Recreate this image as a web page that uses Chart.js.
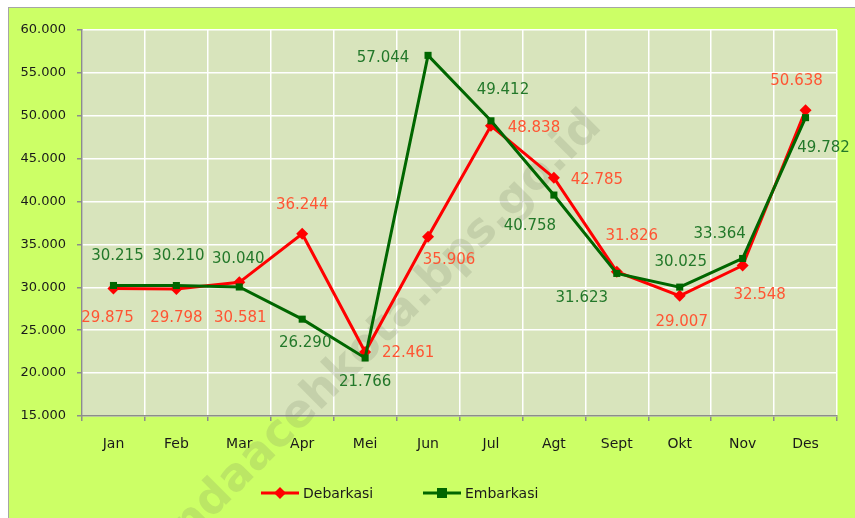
<!DOCTYPE html>
<html>
<head>
<meta charset="utf-8">
<script src="https://cdn.jsdelivr.net/npm/chart.js@4.4.1/dist/chart.umd.min.js"></script>
<style>
  body { margin: 0; background: #ffffff; }
  #frame {
    position: absolute; left: 8px; top: 7px;
    width: 846px; height: 510px;
    border-left: 1px solid #a6a6a6; border-top: 1px solid #a6a6a6;
    background: #ccff66;
  }
  #chart { display: block; }
</style>
</head>
<body>
<div id="frame"><canvas id="chart" width="846" height="510"></canvas></div>
<script>
const months = ["Jan", "Feb", "Mar", "Apr", "Mei", "Jun", "Jul", "Agt", "Sept", "Okt", "Nov", "Des"];
const debarkasi = [29875, 29798, 30581, 36244, 22461, 35906, 48838, 42785, 31826, 29007, 32548, 50638];
const embarkasi = [30215, 30210, 30040, 26290, 21766, 57044, 49412, 40758, 31623, 30025, 33364, 49782];
const yTicks = [15000, 20000, 25000, 30000, 35000, 40000, 45000, 50000, 55000, 60000];

// where each value label sits relative to its point (px)
const debLabelPos = [[-6, 30], [0, 29], [1, 36], [0, -29], [43, 1], [21, 23], [43, 2], [43, 2], [15, -36], [2, 26], [17, 30], [-9, -29]];
const embLabelPos = [[4, -29], [2, -29], [-1, -28], [3, 24], [0, 24], [-45, 3], [12, -31], [-24, 31], [-35, 25], [1, -25], [-23, -24], [18, 30]];

const RED = "#ff0000";
const GREEN = "#006600";
const RED_TXT = "#ff5533";
const GREEN_TXT = "#23782a";

function fmt(v) {
  return (v / 1000).toFixed(3);
}

// plot background + watermark
const backPlugin = {
  id: "back",
  beforeDraw(chart) {
    const { ctx, chartArea: a } = chart;
    ctx.save();
    ctx.fillStyle = "#d8e4bc";
    ctx.fillRect(a.left, a.top, a.right - a.left, a.bottom - a.top);
    ctx.restore();
  },
  beforeDatasetsDraw(chart) {
    const ctx = chart.ctx;
    ctx.save();
    ctx.translate(356, 341);
    ctx.rotate(-Math.PI / 4);
    ctx.font = "bold 40px 'DejaVu Sans'";
    const txt = "bandaacehkota.bps.go.id";
    const w = ctx.measureText(txt).width;
    ctx.scale(650 / w, 650 / w);
    ctx.fillStyle = "rgba(120,130,100,0.2)";
    ctx.textAlign = "center";
    ctx.textBaseline = "middle";
    ctx.fillText(txt, 0, 0);
    ctx.restore();
  }
};

// value labels next to the points
const labelPlugin = {
  id: "valueLabels",
  afterDatasetsDraw(chart) {
    const ctx = chart.ctx;
    ctx.save();
    ctx.font = "15px 'DejaVu Sans'";
    ctx.textAlign = "center";
    ctx.textBaseline = "middle";
    chart.data.datasets.forEach((ds, di) => {
      const meta = chart.getDatasetMeta(di);
      const pos = di === 0 ? debLabelPos : embLabelPos;
      ctx.fillStyle = di === 0 ? RED_TXT : GREEN_TXT;
      meta.data.forEach((pt, i) => {
        ctx.fillText(fmt(ds.data[i]), pt.x + pos[i][0], pt.y + pos[i][1]);
      });
    });
    ctx.restore();
  }
};

// legend: line with marker, then name
const legendPlugin = {
  id: "lineLegend",
  afterDraw(chart) {
    const ctx = chart.ctx;
    const y = 485;
    const items = [
      { x: 252, name: "Debarkasi", color: RED, marker: "diamond" },
      { x: 414, name: "Embarkasi", color: GREEN, marker: "square" }
    ];
    ctx.save();
    items.forEach(it => {
      ctx.strokeStyle = it.color;
      ctx.lineWidth = 3;
      ctx.beginPath();
      ctx.moveTo(it.x, y);
      ctx.lineTo(it.x + 38, y);
      ctx.stroke();
      ctx.fillStyle = it.color;
      const cx = it.x + 19;
      if (it.marker === "diamond") {
        ctx.beginPath();
        ctx.moveTo(cx, y - 6);
        ctx.lineTo(cx + 6, y);
        ctx.lineTo(cx, y + 6);
        ctx.lineTo(cx - 6, y);
        ctx.closePath();
        ctx.fill();
      } else {
        ctx.fillRect(cx - 5, y - 5, 10, 10);
      }
      ctx.fillStyle = "#1a1a1a";
      ctx.font = "14px 'DejaVu Sans'";
      ctx.textAlign = "left";
      ctx.textBaseline = "middle";
      ctx.fillText(it.name, it.x + 42, y + 1);
    });
    ctx.restore();
  }
};

new Chart(document.getElementById("chart"), {
  type: "line",
  data: {
    labels: months,
    datasets: [{
      label: "Debarkasi",
      data: debarkasi,
      borderColor: RED,
      backgroundColor: RED,
      borderWidth: 3,
      pointStyle: "rectRot",
      pointRadius: 6,
      pointBorderWidth: 0,
      tension: 0,
      order: 1
    }, {
      label: "Embarkasi",
      data: embarkasi,
      borderColor: GREEN,
      backgroundColor: GREEN,
      borderWidth: 3,
      pointStyle: "rect",
      pointRadius: 5,
      pointBorderWidth: 0,
      tension: 0,
      order: 0
    }]
  },
  options: {
    responsive: false,
    animation: false,
    events: [],
    layout: { padding: { top: 22, right: 18, left: 0, bottom: 62 } },
    plugins: {
      legend: { display: false },
      tooltip: { enabled: false }
    },
    scales: {
      x: {
        offset: true,
        grid: { offset: true, color: "#ffffff", lineWidth: 1.5, tickColor: "#8c8c8c", tickLength: 5 },
        border: { color: "#8c8c8c", width: 1.5 },
        ticks: { color: "#1a1a1a", font: { family: "DejaVu Sans", size: 14 }, padding: 15 },
        afterFit(s) { s.height = 40; }
      },
      y: {
        min: 15000,
        max: 60000,
        afterBuildTicks(s) { s.ticks = yTicks.map(v => ({ value: v })); },
        grid: { color: "#ffffff", lineWidth: 1.5, tickColor: "#8c8c8c", tickLength: 5 },
        border: { color: "#8c8c8c", width: 1.5 },
        ticks: { color: "#1a1a1a", font: { family: "DejaVu Sans", size: 13 }, padding: 11, callback: v => fmt(v) },
        afterFit(s) { s.width = 73; }
      }
    }
  },
  plugins: [backPlugin, labelPlugin, legendPlugin]
});
</script>
</body>
</html>
